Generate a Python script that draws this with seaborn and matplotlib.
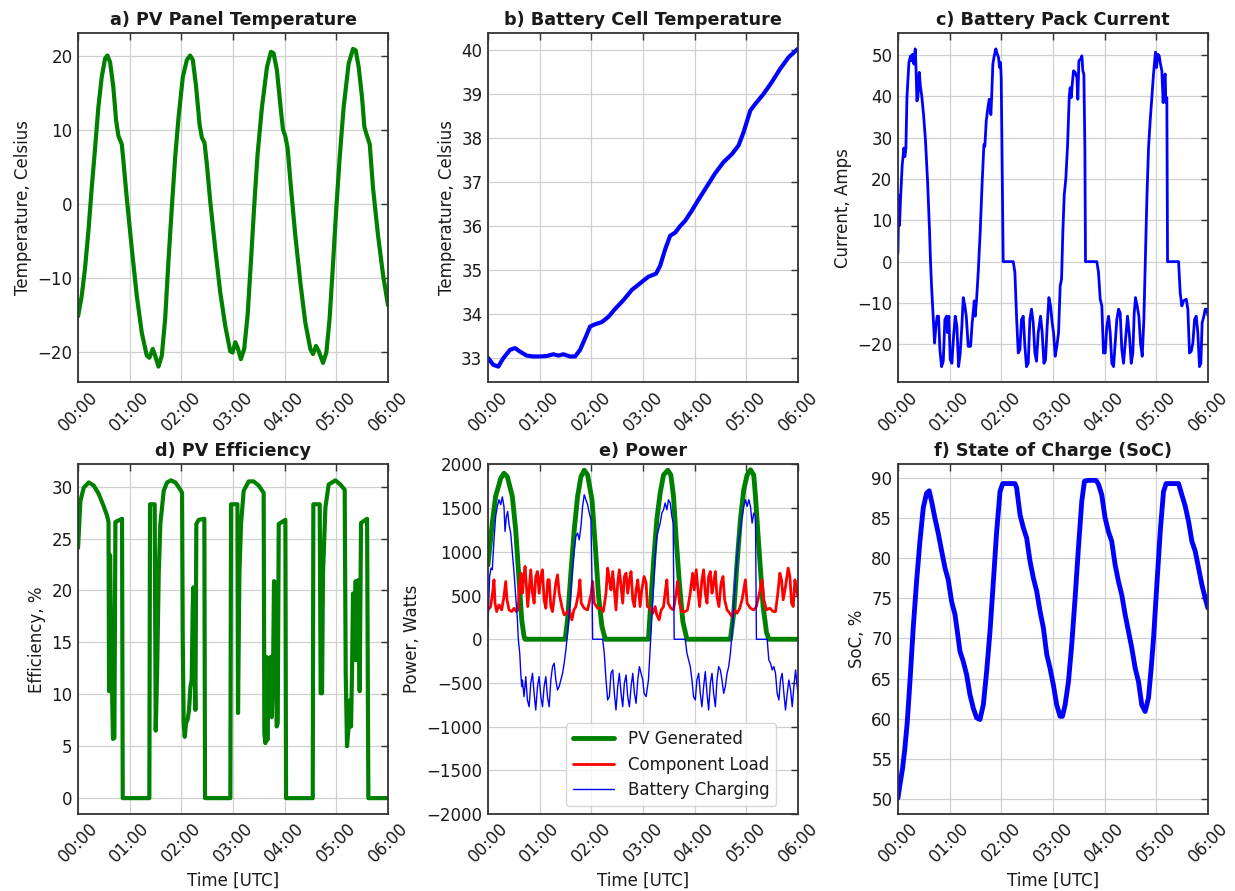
import matplotlib
matplotlib.use("Agg")
import matplotlib.pyplot as plt
import matplotlib.dates as mdates
import pandas as pd
import seaborn as sns

# ---------------------------------------------------------------------------
# Telemetry samples: (minutes after 00:00 UTC, value)
# ---------------------------------------------------------------------------
PV_TEMP = [
    (0, -15.2), (4.3, -12.4), (8.1, -8.7), (12, -3.7), (15.9, 2.2), (19.8, 7.6),
    (23.6, 13.1), (27.5, 17.2), (31.4, 19.7), (34.1, 20.1), (37.2, 19.2), (41, 15.8),
    (44.2, 11.3), (46.9, 9.2), (50.8, 8.1), (52.7, 5.8), (56.6, 0.8), (62.4, -6.0),
    (68.2, -12.4), (74, -17.4), (79.8, -20.5), (82.9, -20.8), (86.8, -19.6), (89.5, -20.5),
    (93.4, -22.0), (97.3, -20.5), (101.2, -15.5), (105, -7.7), (108.9, -0.5), (112.8, 6.3),
    (116.7, 11.7), (121.7, 17.2), (126.4, 19.5), (130.2, 20.1), (133.3, 19.5), (137.2, 15.8),
    (141.1, 10.8), (143.8, 9.0), (146.9, 8.3), (149.6, 5.4), (153.5, 0.4), (159.3, -6.0),
    (165.1, -11.9), (171, -16.5), (176.7, -19.9), (179.5, -20.1), (182.6, -18.7), (185.3, -19.4),
    (189.1, -21.0), (193, -19.6), (196.9, -15.1), (200.8, -7.8), (204.7, -0.1), (208.5, 6.7),
    (213.6, 13.1), (219.4, 18.5), (224, 20.6), (227.1, 20.4), (231, 18.1), (234.9, 13.5),
    (238, 10.1), (240.7, 9.2), (243.4, 7.6), (247.3, 2.2), (252.3, -4.2), (258.1, -10.5),
    (263.9, -16.0), (269.8, -19.6), (272.9, -20.3), (276.4, -19.2), (279.5, -19.9), (284.5, -21.5),
    (288.4, -20.1), (292.2, -15.5), (296.1, -8.2), (300, -0.5), (303.9, 6.3), (308.5, 13.1),
    (314.3, 19.0), (319.4, 21.0), (322.5, 20.8), (326, 18.5), (329.8, 14.5), (332.6, 10.4),
    (335.7, 9.2), (338.8, 8.1), (342.6, 2.2), (348.4, -4.2), (354.3, -9.6), (360, -13.7),
]

CELL_TEMP = [
    (0, 33.01), (6.2, 32.85), (12, 32.81), (17.8, 33.0), (25.6, 33.19), (31.4, 33.23),
    (37.2, 33.15), (45, 33.06), (52.7, 33.04), (60.5, 33.04), (68.2, 33.05), (76, 33.09),
    (81.8, 33.06), (87.6, 33.09), (95.3, 33.04), (101.2, 33.04), (107, 33.19), (112.8, 33.45),
    (118.6, 33.72), (124.4, 33.77), (132.2, 33.82), (139.9, 33.94), (147.7, 34.12), (157.4, 34.32),
    (167.1, 34.55), (176.7, 34.7), (186.4, 34.85), (195.3, 34.92), (200, 35.1), (205.8, 35.47),
    (211.6, 35.78), (217.4, 35.85), (223.3, 36.0), (229.1, 36.12), (236.8, 36.35), (244.6, 36.6),
    (254.3, 36.9), (264, 37.2), (273.6, 37.45), (283.3, 37.63), (291.1, 37.83), (296.9, 38.13),
    (304.7, 38.62), (310.5, 38.77), (320.2, 39.0), (329.8, 39.27), (339.5, 39.57), (349.2, 39.83),
    (360, 40.02),
]

PACK_CURRENT = [
    (0, 2), (1.2, 16), (1.9, 8.8), (3.1, 15.3), (5, 23.4), (7, 27.5), (8.1, 25.4), (9.3, 27.5),
    (10.5, 39.7), (12.8, 48.2), (14.7, 49.8), (15.9, 48.6), (17, 50.2), (18.6, 47.8), (20.1, 51.5),
    (20.9, 47.8), (22.1, 38.9), (23.2, 39.7), (24.8, 45.8), (26.3, 42.1), (27.5, 40.5), (29.8, 35.6),
    (32.1, 29.1), (34.5, 19.3), (36.8, 7.2), (37.9, 0), (39.1, -5.9), (41, -13.2), (42.6, -19.7),
    (44.1, -15.6), (45.7, -13.2), (47.2, -13.2), (48.8, -21.3), (50.7, -25.4), (52.7, -24.1),
    (54.6, -14), (56.5, -13.2), (57.7, -17.2), (59.2, -13.2), (60.8, -23.7), (62.7, -24.6),
    (64.7, -18), (66.6, -13.2), (68.5, -15.6), (70.5, -25.4), (72.4, -22.1), (74.3, -15.6),
    (75.9, -8.7), (77.8, -10.7), (79.4, -13.2), (81.7, -20.5), (84.4, -20.5), (86.3, -14.8),
    (88.7, -9.5), (89.8, -13.2), (91.4, -9.1), (93.3, -2.6), (95.6, 7.2), (97.9, 19.3),
    (99.9, 28.3), (101, 27.9), (102.6, 34), (104.5, 37.2), (106.1, 39.3), (108, 35.6),
    (108.8, 39.3), (110.3, 47.8), (111.9, 49.8), (113.8, 51.5), (115.4, 50.2), (116.9, 49.4),
    (118.1, 47), (119.2, 48.2), (120, 44.6), (121.2, 21.8), (122.3, 0), (134, 0), (135.9, -2.6),
    (137.8, -13.2), (139.8, -22.1), (141.7, -21.3), (143.6, -14), (145.6, -13.2), (147.5, -20.5),
    (149.4, -25.4), (151.4, -24.6), (153.3, -14), (155.2, -11.5), (157.2, -14.8), (159.1, -22.1),
    (161, -24.1), (163, -17.2), (165.7, -13.2), (167.6, -17.2), (169.6, -24.6), (171.5, -23.7),
    (173.4, -15.6), (175.4, -8.7), (177.3, -10.7), (179.2, -14.8), (180.8, -17.2), (182.7, -22.9),
    (184.6, -20.5), (186.6, -17.2), (188.5, -5.9), (190.1, -4.2), (191.6, 7.2), (193.2, 16.1),
    (195.1, 20.2), (197.1, 28.3), (199, 39.7), (200.1, 42.1), (201.3, 39.7), (202.5, 42.9),
    (204, 46.2), (205.9, 45.8), (207.9, 44.6), (209, 39.3), (210.2, 48.6), (212.1, 49),
    (213.7, 49.8), (214.8, 46.2), (216, 45.4), (217.2, 27.5), (217.9, 0), (231.1, 0), (233, -2.6),
    (235, -9.1), (236.9, -10.7), (238.8, -22.1), (240.8, -22.1), (242.7, -15.6), (244.7, -13.2),
    (246.6, -17.2), (248.5, -24.6), (250.5, -25.4), (252.4, -19.7), (254.3, -14), (256.3, -11.5),
    (258.2, -12.4), (260.1, -21.3), (262.1, -24.6), (264.4, -18.9), (266.7, -13.2), (269, -18),
    (271, -24.6), (272.9, -22.1), (274.5, -12.4), (276, -8.7), (277.9, -10.7), (279.9, -13.2),
    (281.8, -19.7), (283.8, -22.9), (285.7, -14), (287.3, -1), (289.2, 15.3), (291.1, 27.5),
    (293, 34), (295, 39.7), (296.9, 45.4), (299.2, 50.7), (300.4, 47), (301.9, 50.2),
    (303.5, 49.8), (305, 47.8), (306.6, 46.2), (308.1, 38.5), (309.3, 44.6), (310.5, 45.4),
    (311.2, 38.5), (312.4, 39.7), (313.2, 0), (326, 0), (327.9, -7.5), (329.8, -10.7),
    (331.8, -9.5), (334.9, -9.1), (336.8, -11.5), (338.7, -22.1), (340.7, -21.7), (342.6, -19.7),
    (344.6, -14), (346.5, -13.2), (348.4, -17.2), (350.3, -25.4), (351.9, -24.6), (353.4, -14.8),
    (355.4, -13.2), (356.9, -11.5), (358.9, -11.5), (360, -13),
]

PV_EFFICIENCY = [
    (0, 24.1), (2.7, 28.6), (6.6, 29.9), (12.4, 30.4), (18.2, 30.1), (24, 29.3), (29.8, 28.1),
    (33.7, 27.2), (35.4, 26.6), (36, 10.3), (37.2, 23.4), (37.9, 19), (39.1, 12), (40.6, 5.7),
    (42.2, 5.8), (43.4, 26.6), (51.1, 26.9), (51.9, 0), (82.8, 0), (83.6, 28.3), (89, 28.3),
    (90.2, 6.5), (91.8, 12), (93.7, 21.6), (95.6, 26.4), (99.5, 29.6), (103.4, 30.4), (108, 30.6),
    (113, 30.4), (118.9, 29.7), (120.8, 29.4), (121.6, 15.2), (122.7, 7.2), (123.9, 5.9),
    (125.4, 7.2), (127.4, 7.6), (128.9, 8.5), (130.5, 10.7), (132, 11.4), (133.2, 18.4),
    (134, 20.3), (135.1, 14), (136.3, 8.5), (137.4, 26.4), (140.1, 26.8), (146.7, 26.9),
    (147.5, 0), (176.9, 0), (177.7, 28.3), (185.1, 28.3), (185.8, 8.2), (187.4, 21.6),
    (189.3, 26.4), (192.4, 29.6), (198.2, 30.5), (204, 30.5), (209.8, 30.1), (215.6, 29.4),
    (216.4, 6.2), (217.6, 5.3), (218.7, 13.6), (219.9, 5.6), (221.1, 13.5), (222.6, 8.2),
    (223.8, 13.6), (224.9, 7.8), (226.5, 12), (227.6, 20.9), (229.2, 20.6), (230.7, 6.9),
    (231.9, 7.2), (233.1, 26.4), (240.8, 26.8), (241.6, 0), (272.6, 0), (273.3, 28.3),
    (280.7, 28.3), (281.8, 10.1), (283.4, 10.1), (284.5, 21.6), (287.3, 28), (291.1, 30.2),
    (298.9, 30.6), (304.7, 30.2), (309.7, 29.7), (310.9, 12), (312.4, 5), (314, 6.6),
    (315.5, 9.4), (317.1, 6.9), (318.2, 12), (319.4, 19.7), (320.9, 13.3), (322.5, 20.9),
    (324, 13.3), (325.6, 21), (327.1, 10.3), (328.7, 26.5), (335.7, 26.9), (337.2, 0), (360, 0),
]

PV_GENERATED = [
    (0, 850), (5, 1330), (8.9, 1635), (14.8, 1840), (18.6, 1900), (22.5, 1860), (28.3, 1635),
    (32.2, 1253), (36.1, 680), (39.2, 222), (41.9, 31), (43.1, 0), (89.7, 0), (92.4, 222),
    (96.3, 756), (100.2, 1253), (104.1, 1635), (108, 1860), (111.8, 1935), (115.7, 1880),
    (120.8, 1597), (124.7, 1062), (128.5, 489), (132.4, 145), (136.3, 0), (186.4, 0),
    (188.3, 298), (192.2, 871), (196.1, 1368), (200, 1673), (203.9, 1880), (208.9, 1935),
    (212.4, 1880), (215.5, 1635), (218.6, 1150), (222.5, 620), (226.4, 200), (231.1, 0),
    (281.6, 0), (285.4, 298), (289.3, 871), (293.2, 1368), (297.1, 1711), (301, 1880),
    (304.9, 1940), (308.7, 1880), (310.7, 1635), (314.6, 1062), (319.6, 374), (323.5, 80),
    (326.2, 0), (360, 0),
]

COMPONENT_LOAD = [
    (0, 336), (3.1, 374), (5.8, 565), (7, 680), (8.2, 413), (10.1, 317), (12.8, 393),
    (15.9, 336), (18.6, 489), (20.6, 661), (22.1, 451), (24.5, 336), (27.6, 317), (30.3, 355),
    (33, 317), (35, 336), (36.9, 680), (38.4, 756), (40, 527), (41.2, 680), (43.1, 833),
    (44.7, 604), (46.2, 374), (47.8, 565), (49.7, 795), (51.7, 527), (53.6, 413), (55.5, 718),
    (57.5, 775), (59.4, 527), (61.4, 718), (63.3, 795), (65.2, 451), (67.2, 355), (69.5, 680),
    (71.1, 680), (73, 374), (75, 317), (78.8, 642), (80.8, 737), (82.7, 527), (85.8, 374),
    (88.5, 279), (91.3, 298), (94.4, 336), (97.5, 222), (99.8, 336), (102.1, 374), (105.2, 527),
    (106.8, 680), (108.3, 413), (111.8, 355), (115.7, 336), (119.6, 508), (121.6, 661),
    (123.5, 413), (127.4, 355), (131.3, 355), (134, 317), (137.1, 527), (139, 814), (141, 680),
    (142.9, 565), (144.9, 775), (146.8, 565), (148.7, 336), (150.7, 642), (152.6, 795),
    (154.6, 604), (156.5, 413), (158.4, 718), (160.4, 756), (162.3, 527), (164.3, 680),
    (166.2, 775), (168.2, 451), (170.1, 374), (172, 565), (174, 680), (176.7, 374), (178.6, 565),
    (181.4, 718), (183.7, 642), (185.2, 374), (188.3, 355), (191.5, 298), (194.2, 374),
    (196.1, 279), (198.8, 222), (201.2, 336), (203.9, 374), (206.2, 565), (207.8, 680),
    (209.3, 413), (212.4, 355), (215.5, 336), (218.6, 527), (220.2, 661), (222.5, 413),
    (225.2, 317), (229.1, 317), (231.8, 336), (234.9, 527), (237.7, 756), (239.6, 565),
    (241.9, 795), (243.9, 565), (245.8, 374), (248.5, 680), (250.5, 795), (252.4, 527),
    (254.4, 413), (256.3, 718), (258.3, 775), (260.2, 527), (262.1, 642), (264.1, 775),
    (266, 489), (268.3, 374), (270.7, 642), (273, 718), (274.9, 451), (277.7, 336), (280.8, 298),
    (283.5, 260), (286.2, 336), (289.3, 298), (292.4, 355), (295.1, 451), (297.1, 565),
    (299, 680), (301, 413), (304.9, 355), (308.7, 336), (311.8, 374), (315.7, 546), (318.4, 680),
    (320.4, 451), (323.5, 336), (327.4, 355), (331.3, 317), (334, 317), (336.7, 527), (339, 756),
    (341, 680), (342.9, 451), (345.6, 604), (348.7, 814), (350.7, 718), (352.6, 413),
    (354.6, 374), (356.5, 680), (358.4, 565), (360, 489),
]

BATTERY_CHARGING = [
    (0, 150), (1.9, 718), (3.5, 814), (5, 795), (7, 1138), (8.9, 1406), (10.9, 1520),
    (12.8, 1597), (14.8, 1540), (16.7, 1630), (18.6, 1520), (19.8, 1234), (21.4, 1406),
    (22.9, 1463), (24.5, 1310), (26.4, 1215), (28.3, 986), (30.3, 756), (32.2, 489), (34.2, 222),
    (35.3, -8), (36.9, -160), (38.1, -390), (39.2, -542), (40, -466), (41.9, -657), (43.9, -428),
    (45.8, -695), (47.8, -772), (49.7, -504), (51.7, -390), (53.6, -619), (55.5, -810),
    (57.5, -542), (59.4, -428), (61.4, -657), (63.3, -772), (65.2, -542), (67.2, -428),
    (69.1, -657), (71.1, -772), (73, -466), (75, -313), (76.9, -275), (78.8, -466), (80.8, -580),
    (82.7, -542), (84.7, -466), (86.6, -390), (88.5, -275), (90.5, -122), (92.4, 69), (94.4, 298),
    (96.3, 565), (98.3, 833), (100.2, 1024), (102.1, 1177), (104.1, 1215), (106, 1138),
    (108, 1291), (109.9, 1520), (111.8, 1654), (113.8, 1597), (115.7, 1540), (117.7, 1444),
    (119.6, 1368), (120.8, 680), (121.6, 0), (133.2, 0), (135.1, -160), (137.1, -466),
    (139, -695), (141, -657), (142.9, -390), (144.9, -351), (146.8, -619), (148.7, -810),
    (150.7, -542), (152.6, -390), (154.6, -619), (156.5, -772), (158.4, -504), (160.4, -409),
    (162.3, -657), (164.3, -772), (166.2, -542), (168.2, -390), (170.1, -619), (172, -733),
    (174, -466), (175.9, -313), (179.8, -466), (181.4, -619), (183.7, -657), (186.4, -466),
    (188.3, -122), (190.3, 222), (192.2, 604), (194.2, 947), (196.1, 1177), (198.1, 1253),
    (200, 1329), (202, 1444), (203.9, 1482), (205.8, 1559), (207.8, 1482), (209.7, 1597),
    (211.7, 1559), (213.6, 1406), (215.1, 1329), (216.3, 0), (229.1, 0), (231.1, -160),
    (233, -237), (235, -313), (236.9, -466), (238.8, -657), (240.8, -695), (242.7, -466),
    (244.7, -390), (246.6, -619), (248.5, -772), (250.5, -542), (252.4, -371), (254.4, -619),
    (256.3, -810), (258.3, -504), (260.2, -390), (262.1, -619), (264.1, -772), (266, -466),
    (268, -313), (269.9, -351), (271.8, -466), (273.8, -619), (275.7, -542), (277.7, -390),
    (279.6, -313), (281.6, -160), (283.5, 69), (285.4, 374), (287.4, 680), (289.3, 947),
    (291.3, 1138), (293.2, 1253), (295.1, 1406), (297.1, 1520), (299, 1597), (301, 1520),
    (303, 1597), (304.9, 1520), (306.8, 1329), (308.7, 1444), (310.7, 1406), (311.8, 0),
    (324.3, 0), (326.2, -237), (328.2, -275), (330.1, -351), (332, -313), (334, -390),
    (335.9, -619), (337.9, -695), (339.8, -466), (341.7, -390), (343.7, -619), (345.6, -810),
    (347.6, -619), (349.5, -466), (351.5, -580), (353.4, -772), (355.3, -542), (357.3, -351),
    (360, -619),
]

STATE_OF_CHARGE = [
    (0, 50.1), (2.3, 51.7), (5.4, 53.8), (8.1, 56.3), (10.9, 59.6), (14, 64.6), (17.8, 71.3),
    (21.7, 77.1), (25.6, 82.1), (29.5, 86.3), (33.3, 88.1), (36.4, 88.4), (39.1, 87.1),
    (43, 85.0), (46.9, 83.1), (50.8, 80.9), (54.7, 78.8), (58.5, 77.3), (62.4, 74.6), (66.3, 73.0),
    (69, 70.9), (72.1, 68.4), (76, 67.1), (79.8, 65.5), (83.7, 63.0), (87.6, 61.3), (91.5, 60.1),
    (95.3, 59.9), (99.2, 61.7), (103.1, 65.9), (107, 70.9), (110.9, 77.1), (114.7, 83.3),
    (118.6, 88.3), (121.7, 89.3), (136, 89.3), (137.9, 88.8), (141.9, 85.4), (145.7, 83.8),
    (149.6, 82.5), (153.5, 79.6), (157.4, 77.5), (161.2, 75.9), (165.1, 73.4), (169, 71.3),
    (172.9, 68.0), (176.7, 66.3), (180.6, 64.2), (184.5, 61.7), (188.4, 60.3), (191.1, 60.3),
    (194.2, 61.7), (198.1, 64.6), (201.9, 69.2), (205.8, 75.0), (209.7, 81.3), (213.6, 87.1),
    (216.7, 89.6), (221.3, 89.7), (230.2, 89.7), (233, 89.2), (236.8, 87.9), (240.7, 85.0),
    (244.6, 83.3), (248.4, 82.1), (252.3, 79.2), (256.2, 77.1), (260.1, 75.4), (263.9, 73.0),
    (267.8, 70.9), (271.7, 68.8), (275.6, 66.3), (279.5, 64.6), (283.3, 61.7), (287.2, 60.9),
    (291.1, 62.6), (294.2, 66.3), (296.9, 70.0), (300.8, 76.7), (304.7, 83.3), (308.5, 88.3),
    (311.6, 89.3), (326, 89.3), (329.8, 87.9), (333.7, 86.5), (337.6, 84.6), (341.5, 82.1),
    (345.3, 80.9), (349.2, 78.8), (353.1, 76.7), (357, 75.0), (360, 73.8),
]

START = pd.Timestamp("2024-01-01 00:00")
END = START + pd.Timedelta(hours=6)

GREEN = "#008000"
RED = "#ff0000"
BLUE = "#0000ff"


def to_frame(samples, column):
    df = pd.DataFrame(samples, columns=["minute", column])
    df["time"] = START + pd.to_timedelta(df["minute"], unit="min")
    return df


sns.set_theme(style="whitegrid")
plt.rcParams.update({
    "font.family": ["DejaVu Sans"],
    "axes.edgecolor": "#333333",
    "axes.linewidth": 1.3,
    "grid.color": "#d0d0d0",
    "grid.linewidth": 0.9,
    "text.color": "#1a1a1a",
    "axes.labelcolor": "#1a1a1a",
    "xtick.color": "#1a1a1a",
    "ytick.color": "#1a1a1a",
    "lines.solid_joinstyle": "round",
})

fig, axes = plt.subplots(2, 3, figsize=(12.35, 8.91), dpi=100)
fig.subplots_adjust(left=0.0632, right=0.978, top=0.963, bottom=0.0864,
                    wspace=0.3226, hspace=0.2346)

panels = [
    (axes[0, 0], "a) PV Panel Temperature", "Temperature, Celsius",
     [(PV_TEMP, "pv_temp", GREEN, 3.0, None)]),
    (axes[0, 1], "b) Battery Cell Temperature", "Temperature, Celsius",
     [(CELL_TEMP, "cell_temp", BLUE, 3.0, None)]),
    (axes[0, 2], "c) Battery Pack Current", "Current, Amps",
     [(PACK_CURRENT, "current", BLUE, 2.0, None)]),
    (axes[1, 0], "d) PV Efficiency", "Efficiency, %",
     [(PV_EFFICIENCY, "efficiency", GREEN, 3.0, None)]),
    (axes[1, 1], "e) Power", "Power, Watts",
     [(PV_GENERATED, "power", GREEN, 3.5, "PV Generated"),
      (COMPONENT_LOAD, "power", RED, 2.0, "Component Load"),
      (BATTERY_CHARGING, "power", BLUE, 1.0, "Battery Charging")]),
    (axes[1, 2], "f) State of Charge (SoC)", "SoC, %",
     [(STATE_OF_CHARGE, "soc", BLUE, 3.5, None)]),
]

for ax, title, ylabel, series in panels:
    for samples, column, color, lw, label in series:
        df = to_frame(samples, column)
        sns.lineplot(data=df, x="time", y=column, ax=ax, color=color,
                     linewidth=lw, estimator=None, sort=False, label=label,
                     legend=False)
    ax.set_xlim(START, END)
    ax.xaxis.set_major_locator(mdates.HourLocator(interval=1))
    ax.xaxis.set_major_formatter(mdates.DateFormatter("%H:%M"))
    ax.tick_params(axis="both", which="major", direction="in", top=True,
                   right=True, length=5, width=1.0, labelsize=12,
                   color="#333333", pad=4)
    for lbl in ax.get_xticklabels():
        lbl.set_rotation(45)
    ax.set_title(title, fontsize=12.7, fontweight="bold", pad=6)
    ax.set_ylabel(ylabel, fontsize=12)
    ax.set_xlabel("")
    ax.grid(True)

for ax in axes[1]:
    ax.set_xlabel("Time [UTC]", fontsize=12)

power_ax = axes[1, 1]
power_ax.set_ylim(-2000, 2000)
power_ax.set_yticks(range(-2000, 2001, 500))
power_ax.legend(loc="lower right", bbox_to_anchor=(0.956, 0.0), fontsize=12,
                frameon=True, fancybox=True, framealpha=0.8,
                edgecolor="#cccccc", handlelength=2.5, labelspacing=0.45)

fig.savefig("out.png", dpi=100)
